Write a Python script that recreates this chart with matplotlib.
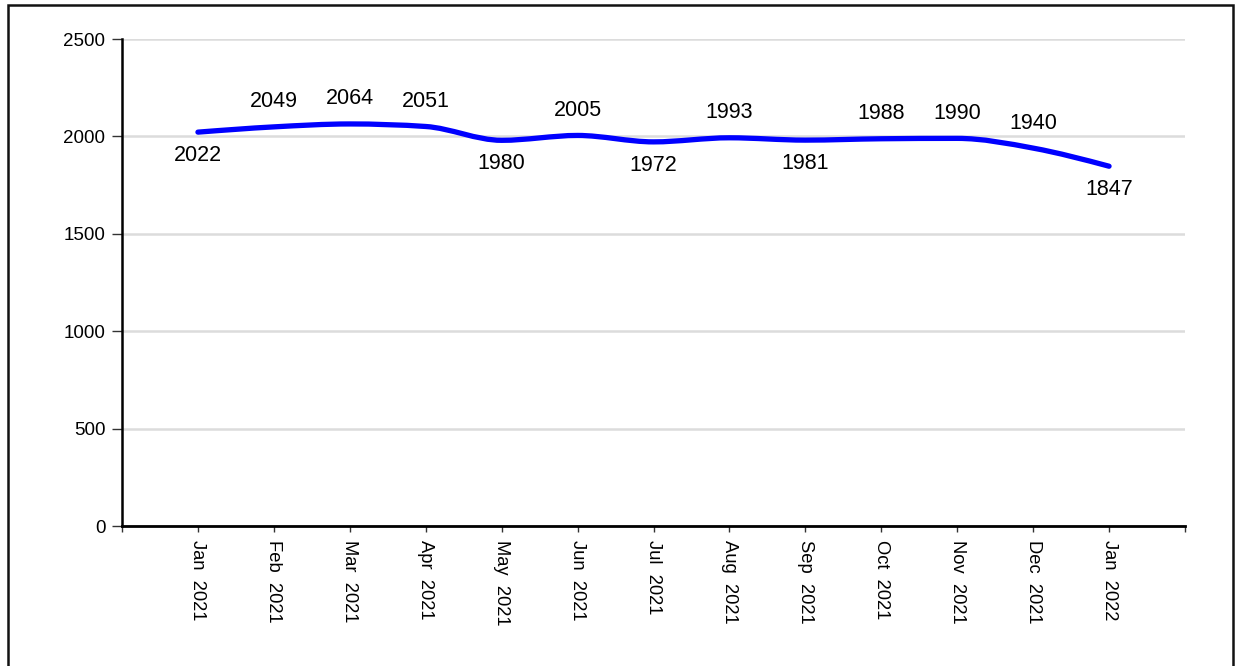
import numpy as np
import matplotlib.pyplot as plt
from matplotlib.path import Path
from matplotlib.patches import PathPatch, Rectangle

# ---------------------------------------------------------
# Data
# ---------------------------------------------------------
months = ['Jan  2021', 'Feb  2021', 'Mar  2021', 'Apr  2021', 'May  2021', 'Jun  2021',
          'Jul  2021', 'Aug  2021', 'Sep  2021', 'Oct  2021', 'Nov  2021', 'Dec  2021',
          'Jan  2022']
values = [2022, 2049, 2064, 2051, 1980, 2005, 1972, 1993, 1981, 1988, 1990, 1940, 1847]
y_ticks = [0, 500, 1000, 1500, 2000, 2500]

plt.rcParams['font.family'] = ['Liberation Sans', 'DejaVu Sans']

fig = plt.figure(figsize=(12.35, 6.66), dpi=100)
ax = fig.add_axes([0.0988, 0.2102, 0.8607, 0.7312])

x = np.arange(len(values), dtype=float)
y = np.array(values, dtype=float)


# monotone-x cubic tangents (same idea as d3.curveMonotoneX)
def monotone_slopes(x, y):
    h = np.diff(x)
    s = np.diff(y) / h
    m = np.zeros_like(y)
    for i in range(1, len(y) - 1):
        s0, s1, h0, h1 = s[i - 1], s[i], h[i - 1], h[i]
        p = (s0 * h1 + s1 * h0) / (h0 + h1)
        m[i] = (np.sign(s0) + np.sign(s1)) * min(abs(s0), abs(s1), 0.5 * abs(p))
    m[0] = (3 * s[0] - m[1]) / 2
    m[-1] = (3 * s[-1] - m[-2]) / 2
    return m


m = monotone_slopes(x, y)
verts = [(x[0], y[0])]
codes = [Path.MOVETO]
for i in range(len(x) - 1):
    dx = (x[i + 1] - x[i]) / 3
    verts += [(x[i] + dx, y[i] + dx * m[i]),
              (x[i + 1] - dx, y[i + 1] - dx * m[i + 1]),
              (x[i + 1], y[i + 1])]
    codes += [Path.CURVE4] * 3
ax.add_patch(PathPatch(Path(verts, codes), facecolor='none', edgecolor='#0000ff',
                       linewidth=3.8, capstyle='round', joinstyle='round', zorder=3))

# value labels: below local minima, above otherwise
for i, v in enumerate(values):
    prev_v = values[i - 1] if i > 0 else np.inf
    next_v = values[i + 1] if i < len(values) - 1 else np.inf
    below = v < prev_v and v < next_v
    ax.annotate(str(v), (i, v), xytext=(0, -17 if below else 18), textcoords='offset points',
                ha='center', va='center', fontsize=15.5, color='black')

ax.set_xlim(-1, len(values))
ax.set_ylim(0, 2500)
ax.set_xticks(x)
ax.set_xticklabels(months, rotation=270, fontsize=13.2)
ax.set_xticks([-1, len(values)], minor=True)
ax.set_yticks(y_ticks)
ax.set_yticklabels([str(t) for t in y_ticks], fontsize=13.5)

ax.grid(axis='y', color='#dcdcdc', linewidth=1.8)
ax.set_axisbelow(True)
for side in ['top', 'right']:
    ax.spines[side].set_visible(False)
ax.spines['left'].set_linewidth(1.8)
ax.spines['bottom'].set_linewidth(2.0)
ax.tick_params(axis='y', length=7, width=1, pad=5, color='#333333')
ax.tick_params(axis='x', which='both', length=4, width=1, pad=6, color='#333333')

# outer frame around the whole picture
fig.patches.append(Rectangle((0.0065, -0.05), 0.992, 1.0425, transform=fig.transFigure,
                             fill=False, edgecolor='#111111', linewidth=1.8))

fig.savefig('out.png', dpi=100)
